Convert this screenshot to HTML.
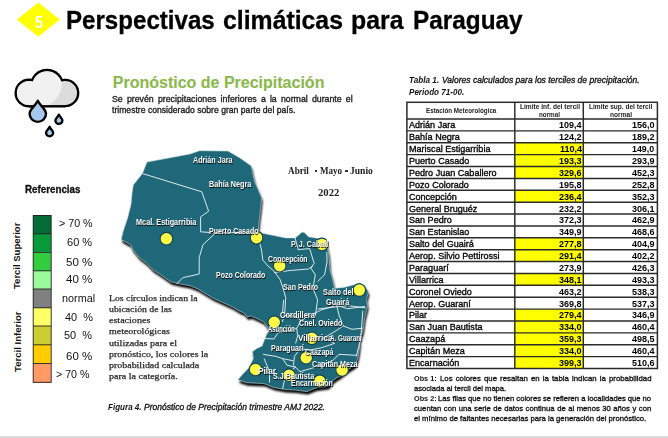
<!DOCTYPE html><html><head><meta charset="utf-8"><style>
html,body{margin:0;padding:0;background:#fff;width:668px;height:438px;overflow:hidden;position:relative;}
.t{position:absolute;white-space:pre;transform-origin:0 50%;}
.b{position:absolute;}
</style></head><body>
<svg class="b" style="left:0;top:0" width="668" height="438" viewBox="0 0 668 438"><polygon points="16.8,19.5 38.3,2.5 59.8,19.5 38.3,36.8" fill="#FFFF00"/></svg>
<div class="t" style="left:34.60px;top:12.80px;font-size:16.4px;line-height:18px;font-family:'Liberation Sans', sans-serif;font-weight:bold;font-style:normal;color:#fff;transform:scaleX(0.8664);">5</div>
<div class="t" style="left:65.80px;top:5.80px;font-size:25.4px;line-height:28px;font-family:'Liberation Sans', sans-serif;font-weight:bold;font-style:normal;color:#000;transform:scaleX(0.9493);-webkit-text-stroke:0.3px #000;">Perspectivas</div>
<div class="t" style="left:222.90px;top:5.80px;font-size:25.4px;line-height:28px;font-family:'Liberation Sans', sans-serif;font-weight:bold;font-style:normal;color:#000;transform:scaleX(0.9769);-webkit-text-stroke:0.3px #000;">climáticas</div>
<div class="t" style="left:350.90px;top:5.80px;font-size:25.4px;line-height:28px;font-family:'Liberation Sans', sans-serif;font-weight:bold;font-style:normal;color:#000;transform:scaleX(0.9791);-webkit-text-stroke:0.3px #000;">para</div>
<div class="t" style="left:412.60px;top:5.80px;font-size:25.4px;line-height:28px;font-family:'Liberation Sans', sans-serif;font-weight:bold;font-style:normal;color:#000;transform:scaleX(0.9593);-webkit-text-stroke:0.3px #000;">Paraguay</div>
<svg class="b" style="left:0;top:0" width="110" height="140" viewBox="0 0 110 140">
<defs><clipPath id="cc"><circle cx="29" cy="93" r="12.1"/><circle cx="47" cy="86" r="14.8"/><circle cx="65.1" cy="93" r="11.9"/><rect x="29" y="86" width="36.1" height="19.1"/></clipPath></defs>
<g fill="#000"><circle cx="29" cy="93" r="14.5"/><circle cx="47" cy="86" r="17.2"/><circle cx="65.1" cy="93" r="14.3"/><rect x="29" y="86" width="36.1" height="21.5"/></g>
<g fill="#DCDCDC"><circle cx="29" cy="93" r="12.1"/><circle cx="47" cy="86" r="14.8"/><circle cx="65.1" cy="93" r="11.9"/><rect x="29" y="86" width="36.1" height="19.1"/></g>
<g clip-path="url(#cc)" fill="#F1F1F1"><circle cx="36.3" cy="82.7" r="25.7"/></g>
<path d="M37.8,100.8 C40.669999999999995,106.605 46.0,109.19 46.0,113.7 A8.2,8.2 0 1 1 29.599999999999998,113.7 C29.599999999999998,109.19 34.93,106.605 37.8,100.8 Z" fill="#A6C8EE" stroke="#000" stroke-width="2.4" stroke-linejoin="round"/><path d="M58.9,114.6 C60.125,117.21 62.4,118.47500000000001 62.4,120.4 A3.5,3.5 0 1 1 55.4,120.4 C55.4,118.47500000000001 57.675,117.21 58.9,114.6 Z" fill="#A6C8EE" stroke="#000" stroke-width="2.3" stroke-linejoin="round"/><path d="M49.6,126.8 C50.86,129.45499999999998 53.2,130.72 53.2,132.7 A3.6,3.6 0 1 1 46.0,132.7 C46.0,130.72 48.34,129.45499999999998 49.6,126.8 Z" fill="#A6C8EE" stroke="#000" stroke-width="2.3" stroke-linejoin="round"/></svg>
<div class="t" style="left:112.80px;top:74.00px;font-size:16px;line-height:17px;font-family:'Liberation Sans', sans-serif;font-weight:bold;font-style:normal;color:#8BB84B;transform:scaleX(1.0000);-webkit-text-stroke:0.1px #8BB84B;">Pronóstico de Precipitación</div>
<div class="t" style="left:112.20px;top:94.00px;font-size:8.9px;line-height:10px;font-family:'Liberation Sans', sans-serif;font-weight:normal;font-style:normal;color:#1a1a1a;word-spacing:1.711px;transform:scaleX(0.9900);-webkit-text-stroke:0.32px currentColor;">Se prevén precipitaciones inferiores a la normal durante el</div>
<div class="t" style="left:112.20px;top:105.00px;font-size:8.9px;line-height:10px;font-family:'Liberation Sans', sans-serif;font-weight:normal;font-style:normal;color:#1a1a1a;transform:scaleX(0.9706);-webkit-text-stroke:0.32px currentColor;">trimestre considerado sobre gran parte del país.</div>
<div class="t" style="left:24.80px;top:184.20px;font-size:10.1px;line-height:11px;font-family:'Liberation Sans', sans-serif;font-weight:bold;font-style:normal;color:#111;transform:scaleX(0.9691);-webkit-text-stroke:0.3px #111;">Referencias</div>
<div class="b" style="left:33.00px;top:215.30px;width:18.40px;height:18.50px;background:#066B36;"></div>
<div class="b" style="left:33.00px;top:233.80px;width:18.40px;height:18.70px;background:#079A3A;"></div>
<div class="b" style="left:33.00px;top:252.50px;width:18.40px;height:18.30px;background:#33CC3F;"></div>
<div class="b" style="left:33.00px;top:270.80px;width:18.40px;height:18.20px;background:#9BFA9B;"></div>
<div class="b" style="left:33.00px;top:289.00px;width:18.40px;height:18.80px;background:#808080;"></div>
<div class="b" style="left:33.00px;top:307.80px;width:18.40px;height:18.20px;background:#FFFF66;"></div>
<div class="b" style="left:33.00px;top:326.00px;width:18.40px;height:18.80px;background:#CCCC33;"></div>
<div class="b" style="left:33.00px;top:344.80px;width:18.40px;height:18.70px;background:#FFCC00;"></div>
<div class="b" style="left:33.00px;top:363.50px;width:18.40px;height:19.00px;background:#FF9966;"></div>
<svg class="b" style="left:0;top:0" width="60" height="400" viewBox="0 0 60 400"><g stroke="#222" stroke-width="0.9" fill="none"><rect x="33.2" y="215.5" width="18" height="166.8"/><line x1="33" x2="51.4" y1="233.8" y2="233.8"/><line x1="33" x2="51.4" y1="252.5" y2="252.5"/><line x1="33" x2="51.4" y1="270.8" y2="270.8"/><line x1="33" x2="51.4" y1="289" y2="289"/><line x1="33" x2="51.4" y1="307.8" y2="307.8"/><line x1="33" x2="51.4" y1="326" y2="326"/><line x1="33" x2="51.4" y1="344.8" y2="344.8"/><line x1="33" x2="51.4" y1="363.5" y2="363.5"/></g></svg>
<div class="t" style="left:58.90px;top:218.40px;font-size:10px;line-height:11px;font-family:'Liberation Sans', sans-serif;font-weight:normal;font-style:normal;color:#111;transform:scaleX(1.0697);">&gt; 70 %</div>
<div class="t" style="left:67.40px;top:237.30px;font-size:10px;line-height:11px;font-family:'Liberation Sans', sans-serif;font-weight:normal;font-style:normal;color:#111;transform:scaleX(1.1014);">60 %</div>
<div class="t" style="left:66.20px;top:256.50px;font-size:10px;line-height:11px;font-family:'Liberation Sans', sans-serif;font-weight:normal;font-style:normal;color:#111;transform:scaleX(1.1540);">50 %</div>
<div class="t" style="left:66.20px;top:274.30px;font-size:10px;line-height:11px;font-family:'Liberation Sans', sans-serif;font-weight:normal;font-style:normal;color:#111;transform:scaleX(1.1540);">40 %</div>
<div class="t" style="left:61.60px;top:292.90px;font-size:10px;line-height:11px;font-family:'Liberation Sans', sans-serif;font-weight:normal;font-style:normal;color:#111;transform:scaleX(1.0828);">normal</div>
<div class="t" style="left:64.60px;top:311.80px;font-size:10px;line-height:11px;font-family:'Liberation Sans', sans-serif;font-weight:normal;font-style:normal;color:#111;transform:scaleX(1.0911);">40  %</div>
<div class="t" style="left:64.00px;top:329.60px;font-size:10px;line-height:11px;font-family:'Liberation Sans', sans-serif;font-weight:normal;font-style:normal;color:#111;transform:scaleX(1.0950);">50  %</div>
<div class="t" style="left:65.80px;top:350.60px;font-size:10px;line-height:11px;font-family:'Liberation Sans', sans-serif;font-weight:normal;font-style:normal;color:#111;transform:scaleX(1.1496);">60 %</div>
<div class="t" style="left:56.00px;top:368.90px;font-size:10px;line-height:11px;font-family:'Liberation Sans', sans-serif;font-weight:normal;font-style:normal;color:#111;transform:scaleX(1.0665);">&gt; 70 %</div>
<div class="t" style="left:11.9px;top:288.8px;font-size:9.6px;line-height:9.6px;font-family:'Liberation Sans';font-weight:bold;color:#111;transform-origin:0 0;transform:rotate(-90deg) scaleX(0.99);">Tercil Superior</div>
<div class="t" style="left:13.0px;top:371.9px;font-size:9.6px;line-height:9.6px;font-family:'Liberation Sans';font-weight:bold;color:#111;transform-origin:0 0;transform:rotate(-90deg) scaleX(1.0);">Tercil Inferior</div>
<svg class="b" style="left:0;top:0" width="668" height="438" viewBox="0 0 668 438"><defs><filter id="sh" x="-10%" y="-10%" width="120%" height="120%"><feGaussianBlur stdDeviation="0.9"/></filter></defs><polygon points="147,162 190,154 199.5,150.7 228,151 240,158 251.4,166 252.6,172.8 254.8,182 258.3,190 261.7,198 260.5,209.4 259.4,218.5 258.3,230 262.8,233.3 274.2,235.6 285.7,237.9 294.8,237.9 298.2,235.6 301.6,232.2 304,232.2 308.5,236.8 315.3,237.9 318.5,238.3 326.5,242.8 328.8,254.2 330,270 331.9,276.4 334.6,288.3 343.7,287.4 354.7,284.6 359.3,282.8 364.7,285.5 368.4,292 366.6,299.2 367.5,306.5 364.7,317.5 363,330.3 360,340 359.3,349 357.8,358 354.9,365.4 348.9,369.2 340,376 334,379.7 328,386.4 316,387.9 307,391.6 295,390.1 285,389.5 273.8,387.5 264,383.6 246.6,382.7 237.9,379.8 242.8,374 248.6,368.1 253.4,358.4 252.4,351.7 256.3,348.8 262.1,345.9 264,341 267,333.3 270.5,331.5 268.3,329.2 266.5,325.6 263.7,321.9 258.3,319.2 251,316 247.3,316.9 243.7,312.8 240,311.4 232.6,307 212.8,298 198,289 190,285.7 180.3,284.1 170.7,281.7 162.7,276.1 153.1,269.7 146.7,263.3 138.8,257 132.4,249 130.8,245 121.2,239.4 123,231.8 127.6,218 131,204.4 132.1,193 133.3,185 142.4,173.5" fill="#000" transform="translate(1.0,3.0)" filter="url(#sh)" opacity="1"/><polygon points="147,162 190,154 199.5,150.7 228,151 240,158 251.4,166 252.6,172.8 254.8,182 258.3,190 261.7,198 260.5,209.4 259.4,218.5 258.3,230 262.8,233.3 274.2,235.6 285.7,237.9 294.8,237.9 298.2,235.6 301.6,232.2 304,232.2 308.5,236.8 315.3,237.9 318.5,238.3 326.5,242.8 328.8,254.2 330,270 331.9,276.4 334.6,288.3 343.7,287.4 354.7,284.6 359.3,282.8 364.7,285.5 368.4,292 366.6,299.2 367.5,306.5 364.7,317.5 363,330.3 360,340 359.3,349 357.8,358 354.9,365.4 348.9,369.2 340,376 334,379.7 328,386.4 316,387.9 307,391.6 295,390.1 285,389.5 273.8,387.5 264,383.6 246.6,382.7 237.9,379.8 242.8,374 248.6,368.1 253.4,358.4 252.4,351.7 256.3,348.8 262.1,345.9 264,341 267,333.3 270.5,331.5 268.3,329.2 266.5,325.6 263.7,321.9 258.3,319.2 251,316 247.3,316.9 243.7,312.8 240,311.4 232.6,307 212.8,298 198,289 190,285.7 180.3,284.1 170.7,281.7 162.7,276.1 153.1,269.7 146.7,263.3 138.8,257 132.4,249 130.8,245 121.2,239.4 123,231.8 127.6,218 131,204.4 132.1,193 133.3,185 142.4,173.5" fill="#1F6879" stroke="#cfdde2" stroke-width="0.6"/><g fill="none" stroke="#E6EEF0" stroke-width="0.95" stroke-linejoin="round"><polyline points="142.4,173.5 201.8,191.8 208.6,211.2 200.6,216.9 200.6,231.8 215,232.9 258.3,232"/><polyline points="215,233.5 203,244.7 199.2,257.6 199.2,274 182.8,277.7 176.6,284"/><polyline points="258.5,233 259.4,241.7 261.5,250 262.8,260 268,266 274.2,271.4 280,279.4 283,288 285.7,297.6 284.5,315.9 282,322"/><polyline points="294.8,237 298.2,249.7 309.6,248.5 314.2,263.4 310.8,268 315.3,274.8 313,288.5 317.6,299.9 315.3,315.9"/><polyline points="274.2,272.5 290,270.5 308.5,269 313,265.7"/><polyline points="326.8,252 327,262 324.5,274.8 317.6,281.6"/><polyline points="317.6,309 335.9,306.8 347.3,305.6 365.6,307.9"/><polyline points="283.6,300 282.6,310.9 284.7,315.2 295.6,316.3 301,320.6 310.8,315.2 321.6,309.8 336.8,305.4 347.7,308.7 365,306.5"/><polyline points="336.8,305.4 339,315.2 343.3,326 352,329.3 362.8,328.2"/><polyline points="362.8,310.9 360.7,339 356.3,356.4"/><polyline points="301,320.6 296.7,328.2 297.7,335.8 295.6,343.4"/><polyline points="323.8,338 334.6,343.4 321.6,347.7 310.8,349.9 299.9,348.8 294.5,356.4 293.4,365.1 300,371.6 315.1,367.3 332.5,360.8 339,354.3 356.3,355.3"/><polyline points="256.5,338 273.9,339 278.2,332.6 291.2,330.4 296.7,328.2"/><polyline points="263,354.3 276,356.4 282.6,358.6 293.4,360.8"/><polyline points="264.1,358.6 269.5,371.6 269.5,382.5"/><polyline points="282.6,358.6 286.9,365.1 295.6,367.3"/><polyline points="282.6,389 285.8,373.8 295.6,367.3"/><polyline points="323.8,338 334,332 343.3,326"/></g></svg>
<svg class="b" style="left:0;top:0" width="668" height="438" viewBox="0 0 668 438"><g fill="#FFF844" stroke="#0d4254" stroke-width="1.1"><circle cx="166.4" cy="238.7" r="6.3"/><circle cx="256.6" cy="237.8" r="6.3"/><circle cx="321.9" cy="244.4" r="6.3"/><circle cx="279.7" cy="265.7" r="6.3"/><circle cx="359.3" cy="290.1" r="6.3"/><circle cx="274.3" cy="322.3" r="6.3"/><circle cx="311.9" cy="338.3" r="6.3"/><circle cx="306.2" cy="357.7" r="6.3"/><circle cx="255.6" cy="369.5" r="6.3"/><circle cx="289" cy="375.2" r="6.3"/><circle cx="319.7" cy="381.2" r="6.3"/><circle cx="342.1" cy="370" r="6.3"/></g></svg>
<div class="t" style="left:193.00px;top:154.50px;font-size:8.3px;line-height:10px;font-family:'Liberation Sans', sans-serif;font-weight:bold;font-style:normal;color:#fff;transform:scaleX(0.8639);text-shadow:0.5px 0.6px 0.8px #000;">Adrián Jara</div>
<div class="t" style="left:209.00px;top:179.00px;font-size:8.3px;line-height:10px;font-family:'Liberation Sans', sans-serif;font-weight:bold;font-style:normal;color:#fff;transform:scaleX(0.8724);text-shadow:0.5px 0.6px 0.8px #000;">Bahía Negra</div>
<div class="t" style="left:136.00px;top:217.30px;font-size:8.3px;line-height:10px;font-family:'Liberation Sans', sans-serif;font-weight:bold;font-style:normal;color:#fff;transform:scaleX(0.8795);text-shadow:0.5px 0.6px 0.8px #000;">Mcal. Estigarribia</div>
<div class="t" style="left:209.00px;top:226.30px;font-size:8.3px;line-height:10px;font-family:'Liberation Sans', sans-serif;font-weight:bold;font-style:normal;color:#fff;transform:scaleX(0.8451);text-shadow:0.5px 0.6px 0.8px #000;">Puerto Casado</div>
<div class="t" style="left:290.80px;top:238.90px;font-size:8.3px;line-height:10px;font-family:'Liberation Sans', sans-serif;font-weight:bold;font-style:normal;color:#fff;transform:scaleX(0.8608);text-shadow:0.5px 0.6px 0.8px #000;">P. J. Caball</div>
<div class="t" style="left:268.40px;top:254.10px;font-size:8.3px;line-height:10px;font-family:'Liberation Sans', sans-serif;font-weight:bold;font-style:normal;color:#fff;transform:scaleX(0.8337);text-shadow:0.5px 0.6px 0.8px #000;">Concepción</div>
<div class="t" style="left:215.80px;top:270.30px;font-size:8.3px;line-height:10px;font-family:'Liberation Sans', sans-serif;font-weight:bold;font-style:normal;color:#fff;transform:scaleX(0.8436);text-shadow:0.5px 0.6px 0.8px #000;">Pozo Colorado</div>
<div class="t" style="left:282.80px;top:282.20px;font-size:8.3px;line-height:10px;font-family:'Liberation Sans', sans-serif;font-weight:bold;font-style:normal;color:#fff;transform:scaleX(0.8526);text-shadow:0.5px 0.6px 0.8px #000;">San Pedro</div>
<div class="t" style="left:323.20px;top:286.70px;font-size:8.3px;line-height:10px;font-family:'Liberation Sans', sans-serif;font-weight:bold;font-style:normal;color:#fff;transform:scaleX(0.8816);text-shadow:0.5px 0.6px 0.8px #000;">Salto del</div>
<div class="t" style="left:325.90px;top:297.00px;font-size:8.3px;line-height:10px;font-family:'Liberation Sans', sans-serif;font-weight:bold;font-style:normal;color:#fff;transform:scaleX(0.8853);text-shadow:0.5px 0.6px 0.8px #000;">Guairá</div>
<div class="t" style="left:279.60px;top:310.00px;font-size:8.3px;line-height:10px;font-family:'Liberation Sans', sans-serif;font-weight:bold;font-style:normal;color:#fff;transform:scaleX(0.9020);text-shadow:0.5px 0.6px 0.8px #000;">Cordillera</div>
<div class="t" style="left:268.40px;top:323.50px;font-size:8.3px;line-height:10px;font-family:'Liberation Sans', sans-serif;font-weight:bold;font-style:normal;color:#fff;transform:scaleX(0.7114);text-shadow:0.5px 0.6px 0.8px #000;">Asunción</div>
<div class="t" style="left:298.60px;top:318.10px;font-size:8.3px;line-height:10px;font-family:'Liberation Sans', sans-serif;font-weight:bold;font-style:normal;color:#fff;transform:scaleX(0.8555);text-shadow:0.5px 0.6px 0.8px #000;">Cnel. Oviedo</div>
<div class="t" style="left:297.60px;top:332.50px;font-size:8.3px;line-height:10px;font-family:'Liberation Sans', sans-serif;font-weight:bold;font-style:normal;color:#fff;transform:scaleX(0.9864);text-shadow:0.5px 0.6px 0.8px #000;">Villarrica</div>
<div class="t" style="left:330.00px;top:332.50px;font-size:8.3px;line-height:10px;font-family:'Liberation Sans', sans-serif;font-weight:bold;font-style:normal;color:#fff;transform:scaleX(0.7583);text-shadow:0.5px 0.6px 0.8px #000;">A. Guaraní</div>
<div class="t" style="left:270.60px;top:342.80px;font-size:8.3px;line-height:10px;font-family:'Liberation Sans', sans-serif;font-weight:bold;font-style:normal;color:#fff;transform:scaleX(0.8517);text-shadow:0.5px 0.6px 0.8px #000;">Paraguarí</div>
<div class="t" style="left:305.40px;top:347.40px;font-size:8.3px;line-height:10px;font-family:'Liberation Sans', sans-serif;font-weight:bold;font-style:normal;color:#fff;transform:scaleX(0.8457);text-shadow:0.5px 0.6px 0.8px #000;">Caazapá</div>
<div class="t" style="left:312.20px;top:359.20px;font-size:8.3px;line-height:10px;font-family:'Liberation Sans', sans-serif;font-weight:bold;font-style:normal;color:#fff;transform:scaleX(0.8588);text-shadow:0.5px 0.6px 0.8px #000;">Capitán Meza</div>
<div class="t" style="left:258.00px;top:366.20px;font-size:8.3px;line-height:10px;font-family:'Liberation Sans', sans-serif;font-weight:bold;font-style:normal;color:#fff;transform:scaleX(1.0003);text-shadow:0.5px 0.6px 0.8px #000;">Pilar</div>
<div class="t" style="left:272.90px;top:370.70px;font-size:8.3px;line-height:10px;font-family:'Liberation Sans', sans-serif;font-weight:bold;font-style:normal;color:#fff;transform:scaleX(0.8682);text-shadow:0.5px 0.6px 0.8px #000;">S.J.Bautista</div>
<div class="t" style="left:291.20px;top:377.70px;font-size:8.3px;line-height:10px;font-family:'Liberation Sans', sans-serif;font-weight:bold;font-style:normal;color:#fff;transform:scaleX(0.8411);text-shadow:0.5px 0.6px 0.8px #000;">Encarnación</div>
<div class="t" style="left:288.20px;top:165.60px;font-size:9.5px;line-height:10px;font-family:'Liberation Serif', serif;font-weight:bold;font-style:normal;color:#222;transform:scaleX(0.9658);">Abril</div>
<div class="t" style="left:320.00px;top:165.60px;font-size:9.5px;line-height:10px;font-family:'Liberation Serif', serif;font-weight:bold;font-style:normal;color:#222;transform:scaleX(0.9518);">Mayo</div>
<div class="t" style="left:350.00px;top:165.60px;font-size:9.5px;line-height:10px;font-family:'Liberation Serif', serif;font-weight:bold;font-style:normal;color:#222;transform:scaleX(1.0042);">Junio</div>
<div class="b" style="left:314.60px;top:170.30px;width:2.40px;height:1.50px;background:#333;"></div>
<div class="b" style="left:345.30px;top:170.30px;width:2.30px;height:1.50px;background:#333;"></div>
<div class="t" style="left:317.70px;top:187.60px;font-size:9.5px;line-height:10px;font-family:'Liberation Serif', serif;font-weight:bold;font-style:normal;color:#222;transform:scaleX(1.1211);">2022</div>
<div class="t" style="left:108.90px;top:292.80px;font-size:8.9px;line-height:10px;font-family:'Liberation Serif', serif;font-weight:normal;font-style:normal;color:#262626;transform:scaleX(1.0987);-webkit-text-stroke:0.25px #262626;">Los círculos indican la</div>
<div class="t" style="left:108.90px;top:303.80px;font-size:8.9px;line-height:10px;font-family:'Liberation Serif', serif;font-weight:normal;font-style:normal;color:#262626;transform:scaleX(1.0988);-webkit-text-stroke:0.25px #262626;">ubicación de las</div>
<div class="t" style="left:108.90px;top:315.30px;font-size:8.9px;line-height:10px;font-family:'Liberation Serif', serif;font-weight:normal;font-style:normal;color:#262626;transform:scaleX(1.1321);-webkit-text-stroke:0.25px #262626;">estaciones</div>
<div class="t" style="left:108.90px;top:326.10px;font-size:8.9px;line-height:10px;font-family:'Liberation Serif', serif;font-weight:normal;font-style:normal;color:#262626;transform:scaleX(1.1219);-webkit-text-stroke:0.25px #262626;">meteorológicas</div>
<div class="t" style="left:108.90px;top:337.60px;font-size:8.9px;line-height:10px;font-family:'Liberation Serif', serif;font-weight:normal;font-style:normal;color:#262626;transform:scaleX(1.1312);-webkit-text-stroke:0.25px #262626;">utilizadas para el</div>
<div class="t" style="left:108.90px;top:348.90px;font-size:8.9px;line-height:10px;font-family:'Liberation Serif', serif;font-weight:normal;font-style:normal;color:#262626;transform:scaleX(1.1171);-webkit-text-stroke:0.25px #262626;">pronóstico, los colores la</div>
<div class="t" style="left:108.90px;top:360.40px;font-size:8.9px;line-height:10px;font-family:'Liberation Serif', serif;font-weight:normal;font-style:normal;color:#262626;transform:scaleX(1.1200);-webkit-text-stroke:0.25px #262626;">probabilidad calculada</div>
<div class="t" style="left:108.90px;top:371.10px;font-size:8.9px;line-height:10px;font-family:'Liberation Serif', serif;font-weight:normal;font-style:normal;color:#262626;transform:scaleX(1.1292);-webkit-text-stroke:0.25px #262626;">para la categoría.</div>
<div class="t" style="left:107.70px;top:402.30px;font-size:8.6px;line-height:10px;font-family:'Liberation Sans', sans-serif;font-weight:bold;font-style:italic;color:#111;transform:scaleX(0.9376);">Figura 4.</div>
<div class="t" style="left:144.00px;top:402.30px;font-size:8.6px;line-height:10px;font-family:'Liberation Sans', sans-serif;font-weight:normal;font-style:italic;color:#111;transform:scaleX(0.9884);-webkit-text-stroke:0.32px currentColor;">Pronóstico de Precipitación trimestre AMJ 2022.</div>
<div class="t" style="left:408.80px;top:75.00px;font-size:8.6px;line-height:10px;font-family:'Liberation Sans', sans-serif;font-weight:bold;font-style:italic;color:#111;transform:scaleX(0.9524);">Tabla 1.</div>
<div class="t" style="left:442.20px;top:75.00px;font-size:8.6px;line-height:10px;font-family:'Liberation Sans', sans-serif;font-weight:normal;font-style:italic;color:#111;transform:scaleX(0.9915);-webkit-text-stroke:0.32px currentColor;">Valores calculados para los terciles de precipitación.</div>
<div class="t" style="left:408.80px;top:86.50px;font-size:8.6px;line-height:10px;font-family:'Liberation Sans', sans-serif;font-weight:bold;font-style:italic;color:#111;transform:scaleX(0.9389);">Periodo 71-00.</div>
<div class="b" style="left:514.80px;top:142.76px;width:68.50px;height:11.88px;background:#FFFF00;"></div>
<div class="b" style="left:514.80px;top:154.64px;width:68.50px;height:11.88px;background:#FFFF00;"></div>
<div class="b" style="left:514.80px;top:166.52px;width:68.50px;height:11.88px;background:#FFFF00;"></div>
<div class="b" style="left:514.80px;top:190.29px;width:68.50px;height:11.88px;background:#FFFF00;"></div>
<div class="b" style="left:514.80px;top:237.81px;width:68.50px;height:11.88px;background:#FFFF00;"></div>
<div class="b" style="left:514.80px;top:249.69px;width:68.50px;height:11.88px;background:#FFFF00;"></div>
<div class="b" style="left:514.80px;top:273.45px;width:68.50px;height:11.88px;background:#FFFF00;"></div>
<div class="b" style="left:514.80px;top:309.10px;width:68.50px;height:11.88px;background:#FFFF00;"></div>
<div class="b" style="left:514.80px;top:320.98px;width:68.50px;height:11.88px;background:#FFFF00;"></div>
<div class="b" style="left:514.80px;top:332.86px;width:68.50px;height:11.88px;background:#FFFF00;"></div>
<div class="b" style="left:514.80px;top:344.74px;width:68.50px;height:11.88px;background:#FFFF00;"></div>
<div class="b" style="left:514.80px;top:356.62px;width:68.50px;height:11.88px;background:#FFFF00;"></div>
<svg class="b" style="left:0;top:0" width="668" height="438" viewBox="0 0 668 438"><g stroke="#2a2a2a" stroke-width="1.45" fill="none"><rect x="406.9" y="102.3" width="250.5" height="266.2" stroke-width="1.5"/><line x1="514.8" x2="514.8" y1="102.3" y2="368.5"/><line x1="583.3" x2="583.3" y1="102.3" y2="368.5"/><line x1="406.9" x2="657.4" y1="119" y2="119"/><line x1="406.9" x2="657.4" y1="130.88" y2="130.88"/><line x1="406.9" x2="657.4" y1="142.76" y2="142.76"/><line x1="406.9" x2="657.4" y1="154.64" y2="154.64"/><line x1="406.9" x2="657.4" y1="166.52" y2="166.52"/><line x1="406.9" x2="657.4" y1="178.40" y2="178.40"/><line x1="406.9" x2="657.4" y1="190.29" y2="190.29"/><line x1="406.9" x2="657.4" y1="202.17" y2="202.17"/><line x1="406.9" x2="657.4" y1="214.05" y2="214.05"/><line x1="406.9" x2="657.4" y1="225.93" y2="225.93"/><line x1="406.9" x2="657.4" y1="237.81" y2="237.81"/><line x1="406.9" x2="657.4" y1="249.69" y2="249.69"/><line x1="406.9" x2="657.4" y1="261.57" y2="261.57"/><line x1="406.9" x2="657.4" y1="273.45" y2="273.45"/><line x1="406.9" x2="657.4" y1="285.33" y2="285.33"/><line x1="406.9" x2="657.4" y1="297.21" y2="297.21"/><line x1="406.9" x2="657.4" y1="309.10" y2="309.10"/><line x1="406.9" x2="657.4" y1="320.98" y2="320.98"/><line x1="406.9" x2="657.4" y1="332.86" y2="332.86"/><line x1="406.9" x2="657.4" y1="344.74" y2="344.74"/><line x1="406.9" x2="657.4" y1="356.62" y2="356.62"/></g></svg>
<div class="t" style="left:409.00px;top:120.38px;font-size:8.9px;line-height:10px;font-family:'Liberation Sans', sans-serif;font-weight:normal;font-style:normal;color:#000;transform:scaleX(1.0194);-webkit-text-stroke:0.32px currentColor;">Adrián Jara</div>
<div class="t" style="left:559.30px;top:120.38px;font-size:8.6px;line-height:10px;font-family:'Liberation Sans', sans-serif;font-weight:bold;font-style:normal;color:#000;transform:scaleX(1.0500);">109,4</div>
<div class="t" style="left:631.80px;top:120.38px;font-size:8.6px;line-height:10px;font-family:'Liberation Sans', sans-serif;font-weight:bold;font-style:normal;color:#000;transform:scaleX(1.0500);">156,0</div>
<div class="t" style="left:409.00px;top:132.26px;font-size:8.9px;line-height:10px;font-family:'Liberation Sans', sans-serif;font-weight:normal;font-style:normal;color:#000;transform:scaleX(1.0194);-webkit-text-stroke:0.32px currentColor;">Bahía Negra</div>
<div class="t" style="left:559.30px;top:132.26px;font-size:8.6px;line-height:10px;font-family:'Liberation Sans', sans-serif;font-weight:bold;font-style:normal;color:#000;transform:scaleX(1.0500);">124,2</div>
<div class="t" style="left:631.80px;top:132.26px;font-size:8.6px;line-height:10px;font-family:'Liberation Sans', sans-serif;font-weight:bold;font-style:normal;color:#000;transform:scaleX(1.0500);">189,2</div>
<div class="t" style="left:409.00px;top:144.14px;font-size:8.9px;line-height:10px;font-family:'Liberation Sans', sans-serif;font-weight:normal;font-style:normal;color:#000;transform:scaleX(1.0194);-webkit-text-stroke:0.32px currentColor;">Mariscal Estigarribia</div>
<div class="t" style="left:559.80px;top:144.14px;font-size:8.6px;line-height:10px;font-family:'Liberation Sans', sans-serif;font-weight:bold;font-style:normal;color:#000;transform:scaleX(1.0500);">110,4</div>
<div class="t" style="left:632.30px;top:144.14px;font-size:8.6px;line-height:10px;font-family:'Liberation Sans', sans-serif;font-weight:bold;font-style:normal;color:#000;transform:scaleX(1.0269);">149,0</div>
<div class="t" style="left:409.00px;top:156.02px;font-size:8.9px;line-height:10px;font-family:'Liberation Sans', sans-serif;font-weight:normal;font-style:normal;color:#000;transform:scaleX(1.0194);-webkit-text-stroke:0.32px currentColor;">Puerto Casado</div>
<div class="t" style="left:559.30px;top:156.02px;font-size:8.6px;line-height:10px;font-family:'Liberation Sans', sans-serif;font-weight:bold;font-style:normal;color:#000;transform:scaleX(1.0500);">193,3</div>
<div class="t" style="left:631.80px;top:156.02px;font-size:8.6px;line-height:10px;font-family:'Liberation Sans', sans-serif;font-weight:bold;font-style:normal;color:#000;transform:scaleX(1.0500);">293,9</div>
<div class="t" style="left:409.00px;top:167.90px;font-size:8.9px;line-height:10px;font-family:'Liberation Sans', sans-serif;font-weight:normal;font-style:normal;color:#000;transform:scaleX(1.0194);-webkit-text-stroke:0.32px currentColor;">Pedro Juan Caballero</div>
<div class="t" style="left:559.30px;top:167.90px;font-size:8.6px;line-height:10px;font-family:'Liberation Sans', sans-serif;font-weight:bold;font-style:normal;color:#000;transform:scaleX(1.0500);">329,6</div>
<div class="t" style="left:631.80px;top:167.90px;font-size:8.6px;line-height:10px;font-family:'Liberation Sans', sans-serif;font-weight:bold;font-style:normal;color:#000;transform:scaleX(1.0500);">452,3</div>
<div class="t" style="left:409.00px;top:179.79px;font-size:8.9px;line-height:10px;font-family:'Liberation Sans', sans-serif;font-weight:normal;font-style:normal;color:#000;transform:scaleX(1.0194);-webkit-text-stroke:0.32px currentColor;">Pozo Colorado</div>
<div class="t" style="left:559.30px;top:179.79px;font-size:8.6px;line-height:10px;font-family:'Liberation Sans', sans-serif;font-weight:bold;font-style:normal;color:#000;transform:scaleX(1.0500);">195,8</div>
<div class="t" style="left:631.80px;top:179.79px;font-size:8.6px;line-height:10px;font-family:'Liberation Sans', sans-serif;font-weight:bold;font-style:normal;color:#000;transform:scaleX(1.0500);">252,8</div>
<div class="t" style="left:409.00px;top:191.67px;font-size:8.9px;line-height:10px;font-family:'Liberation Sans', sans-serif;font-weight:normal;font-style:normal;color:#000;transform:scaleX(1.0194);-webkit-text-stroke:0.32px currentColor;">Concepción</div>
<div class="t" style="left:559.30px;top:191.67px;font-size:8.6px;line-height:10px;font-family:'Liberation Sans', sans-serif;font-weight:bold;font-style:normal;color:#000;transform:scaleX(1.0500);">236,4</div>
<div class="t" style="left:631.80px;top:191.67px;font-size:8.6px;line-height:10px;font-family:'Liberation Sans', sans-serif;font-weight:bold;font-style:normal;color:#000;transform:scaleX(1.0500);">352,3</div>
<div class="t" style="left:409.00px;top:203.55px;font-size:8.9px;line-height:10px;font-family:'Liberation Sans', sans-serif;font-weight:normal;font-style:normal;color:#000;transform:scaleX(1.0194);-webkit-text-stroke:0.32px currentColor;">General Bruguéz</div>
<div class="t" style="left:559.30px;top:203.55px;font-size:8.6px;line-height:10px;font-family:'Liberation Sans', sans-serif;font-weight:bold;font-style:normal;color:#000;transform:scaleX(1.0500);">232,2</div>
<div class="t" style="left:631.80px;top:203.55px;font-size:8.6px;line-height:10px;font-family:'Liberation Sans', sans-serif;font-weight:bold;font-style:normal;color:#000;transform:scaleX(1.0500);">306,1</div>
<div class="t" style="left:409.00px;top:215.43px;font-size:8.9px;line-height:10px;font-family:'Liberation Sans', sans-serif;font-weight:normal;font-style:normal;color:#000;transform:scaleX(1.0194);-webkit-text-stroke:0.32px currentColor;">San Pedro</div>
<div class="t" style="left:559.30px;top:215.43px;font-size:8.6px;line-height:10px;font-family:'Liberation Sans', sans-serif;font-weight:bold;font-style:normal;color:#000;transform:scaleX(1.0500);">372,3</div>
<div class="t" style="left:631.80px;top:215.43px;font-size:8.6px;line-height:10px;font-family:'Liberation Sans', sans-serif;font-weight:bold;font-style:normal;color:#000;transform:scaleX(1.0500);">462,9</div>
<div class="t" style="left:409.00px;top:227.31px;font-size:8.9px;line-height:10px;font-family:'Liberation Sans', sans-serif;font-weight:normal;font-style:normal;color:#000;transform:scaleX(1.0194);-webkit-text-stroke:0.32px currentColor;">San Estanislao</div>
<div class="t" style="left:559.30px;top:227.31px;font-size:8.6px;line-height:10px;font-family:'Liberation Sans', sans-serif;font-weight:bold;font-style:normal;color:#000;transform:scaleX(1.0500);">349,9</div>
<div class="t" style="left:631.80px;top:227.31px;font-size:8.6px;line-height:10px;font-family:'Liberation Sans', sans-serif;font-weight:bold;font-style:normal;color:#000;transform:scaleX(1.0500);">468,6</div>
<div class="t" style="left:409.00px;top:239.19px;font-size:8.9px;line-height:10px;font-family:'Liberation Sans', sans-serif;font-weight:normal;font-style:normal;color:#000;transform:scaleX(1.0194);-webkit-text-stroke:0.32px currentColor;">Salto del Guairá</div>
<div class="t" style="left:559.30px;top:239.19px;font-size:8.6px;line-height:10px;font-family:'Liberation Sans', sans-serif;font-weight:bold;font-style:normal;color:#000;transform:scaleX(1.0500);">277,8</div>
<div class="t" style="left:631.80px;top:239.19px;font-size:8.6px;line-height:10px;font-family:'Liberation Sans', sans-serif;font-weight:bold;font-style:normal;color:#000;transform:scaleX(1.0500);">404,9</div>
<div class="t" style="left:409.00px;top:251.07px;font-size:8.9px;line-height:10px;font-family:'Liberation Sans', sans-serif;font-weight:normal;font-style:normal;color:#000;transform:scaleX(1.0194);-webkit-text-stroke:0.32px currentColor;">Aerop. Silvio Pettirossi</div>
<div class="t" style="left:559.30px;top:251.07px;font-size:8.6px;line-height:10px;font-family:'Liberation Sans', sans-serif;font-weight:bold;font-style:normal;color:#000;transform:scaleX(1.0500);">291,4</div>
<div class="t" style="left:631.80px;top:251.07px;font-size:8.6px;line-height:10px;font-family:'Liberation Sans', sans-serif;font-weight:bold;font-style:normal;color:#000;transform:scaleX(1.0500);">402,2</div>
<div class="t" style="left:409.00px;top:262.95px;font-size:8.9px;line-height:10px;font-family:'Liberation Sans', sans-serif;font-weight:normal;font-style:normal;color:#000;transform:scaleX(1.0194);-webkit-text-stroke:0.32px currentColor;">Paraguarí</div>
<div class="t" style="left:559.30px;top:262.95px;font-size:8.6px;line-height:10px;font-family:'Liberation Sans', sans-serif;font-weight:bold;font-style:normal;color:#000;transform:scaleX(1.0500);">273,9</div>
<div class="t" style="left:631.80px;top:262.95px;font-size:8.6px;line-height:10px;font-family:'Liberation Sans', sans-serif;font-weight:bold;font-style:normal;color:#000;transform:scaleX(1.0500);">426,3</div>
<div class="t" style="left:409.00px;top:274.83px;font-size:8.9px;line-height:10px;font-family:'Liberation Sans', sans-serif;font-weight:normal;font-style:normal;color:#000;transform:scaleX(1.0194);-webkit-text-stroke:0.32px currentColor;">Villarrica</div>
<div class="t" style="left:559.30px;top:274.83px;font-size:8.6px;line-height:10px;font-family:'Liberation Sans', sans-serif;font-weight:bold;font-style:normal;color:#000;transform:scaleX(1.0500);">348,1</div>
<div class="t" style="left:631.80px;top:274.83px;font-size:8.6px;line-height:10px;font-family:'Liberation Sans', sans-serif;font-weight:bold;font-style:normal;color:#000;transform:scaleX(1.0500);">493,3</div>
<div class="t" style="left:409.00px;top:286.71px;font-size:8.9px;line-height:10px;font-family:'Liberation Sans', sans-serif;font-weight:normal;font-style:normal;color:#000;transform:scaleX(1.0194);-webkit-text-stroke:0.32px currentColor;">Coronel Oviedo</div>
<div class="t" style="left:559.30px;top:286.71px;font-size:8.6px;line-height:10px;font-family:'Liberation Sans', sans-serif;font-weight:bold;font-style:normal;color:#000;transform:scaleX(1.0500);">463,2</div>
<div class="t" style="left:631.80px;top:286.71px;font-size:8.6px;line-height:10px;font-family:'Liberation Sans', sans-serif;font-weight:bold;font-style:normal;color:#000;transform:scaleX(1.0500);">538,3</div>
<div class="t" style="left:409.00px;top:298.60px;font-size:8.9px;line-height:10px;font-family:'Liberation Sans', sans-serif;font-weight:normal;font-style:normal;color:#000;transform:scaleX(1.0194);-webkit-text-stroke:0.32px currentColor;">Aerop. Guaraní</div>
<div class="t" style="left:559.30px;top:298.60px;font-size:8.6px;line-height:10px;font-family:'Liberation Sans', sans-serif;font-weight:bold;font-style:normal;color:#000;transform:scaleX(1.0500);">369,8</div>
<div class="t" style="left:631.80px;top:298.60px;font-size:8.6px;line-height:10px;font-family:'Liberation Sans', sans-serif;font-weight:bold;font-style:normal;color:#000;transform:scaleX(1.0500);">537,3</div>
<div class="t" style="left:409.00px;top:310.48px;font-size:8.9px;line-height:10px;font-family:'Liberation Sans', sans-serif;font-weight:normal;font-style:normal;color:#000;transform:scaleX(1.0194);-webkit-text-stroke:0.32px currentColor;">Pilar</div>
<div class="t" style="left:559.30px;top:310.48px;font-size:8.6px;line-height:10px;font-family:'Liberation Sans', sans-serif;font-weight:bold;font-style:normal;color:#000;transform:scaleX(1.0500);">279,4</div>
<div class="t" style="left:631.80px;top:310.48px;font-size:8.6px;line-height:10px;font-family:'Liberation Sans', sans-serif;font-weight:bold;font-style:normal;color:#000;transform:scaleX(1.0500);">346,9</div>
<div class="t" style="left:409.00px;top:322.36px;font-size:8.9px;line-height:10px;font-family:'Liberation Sans', sans-serif;font-weight:normal;font-style:normal;color:#000;transform:scaleX(1.0194);-webkit-text-stroke:0.32px currentColor;">San Juan Bautista</div>
<div class="t" style="left:559.30px;top:322.36px;font-size:8.6px;line-height:10px;font-family:'Liberation Sans', sans-serif;font-weight:bold;font-style:normal;color:#000;transform:scaleX(1.0500);">334,0</div>
<div class="t" style="left:631.80px;top:322.36px;font-size:8.6px;line-height:10px;font-family:'Liberation Sans', sans-serif;font-weight:bold;font-style:normal;color:#000;transform:scaleX(1.0500);">460,4</div>
<div class="t" style="left:409.00px;top:334.24px;font-size:8.9px;line-height:10px;font-family:'Liberation Sans', sans-serif;font-weight:normal;font-style:normal;color:#000;transform:scaleX(1.0194);-webkit-text-stroke:0.32px currentColor;">Caazapá</div>
<div class="t" style="left:559.30px;top:334.24px;font-size:8.6px;line-height:10px;font-family:'Liberation Sans', sans-serif;font-weight:bold;font-style:normal;color:#000;transform:scaleX(1.0500);">359,3</div>
<div class="t" style="left:631.80px;top:334.24px;font-size:8.6px;line-height:10px;font-family:'Liberation Sans', sans-serif;font-weight:bold;font-style:normal;color:#000;transform:scaleX(1.0500);">498,5</div>
<div class="t" style="left:409.00px;top:346.12px;font-size:8.9px;line-height:10px;font-family:'Liberation Sans', sans-serif;font-weight:normal;font-style:normal;color:#000;transform:scaleX(1.0194);-webkit-text-stroke:0.32px currentColor;">Capitán Meza</div>
<div class="t" style="left:559.30px;top:346.12px;font-size:8.6px;line-height:10px;font-family:'Liberation Sans', sans-serif;font-weight:bold;font-style:normal;color:#000;transform:scaleX(1.0500);">334,0</div>
<div class="t" style="left:631.80px;top:346.12px;font-size:8.6px;line-height:10px;font-family:'Liberation Sans', sans-serif;font-weight:bold;font-style:normal;color:#000;transform:scaleX(1.0500);">460,4</div>
<div class="t" style="left:409.00px;top:358.00px;font-size:8.9px;line-height:10px;font-family:'Liberation Sans', sans-serif;font-weight:normal;font-style:normal;color:#000;transform:scaleX(1.0194);-webkit-text-stroke:0.32px currentColor;">Encarnación</div>
<div class="t" style="left:559.30px;top:358.00px;font-size:8.6px;line-height:10px;font-family:'Liberation Sans', sans-serif;font-weight:bold;font-style:normal;color:#000;transform:scaleX(1.0500);">399,3</div>
<div class="t" style="left:631.80px;top:358.00px;font-size:8.6px;line-height:10px;font-family:'Liberation Sans', sans-serif;font-weight:bold;font-style:normal;color:#000;transform:scaleX(1.0500);">510,6</div>
<div class="t" style="left:426.00px;top:107.00px;font-size:6.5px;line-height:7px;font-family:'Liberation Sans', sans-serif;font-weight:bold;font-style:normal;color:#222;transform:scaleX(0.9643);">Estación Meteorológica</div>
<div class="t" style="left:519.50px;top:103.00px;font-size:6.5px;line-height:7px;font-family:'Liberation Sans', sans-serif;font-weight:bold;font-style:normal;color:#222;transform:scaleX(1.0129);">Límite inf. del tercil</div>
<div class="t" style="left:538.50px;top:111.20px;font-size:6.5px;line-height:7px;font-family:'Liberation Sans', sans-serif;font-weight:bold;font-style:normal;color:#222;transform:scaleX(0.9644);">normal</div>
<div class="t" style="left:588.80px;top:103.00px;font-size:6.5px;line-height:7px;font-family:'Liberation Sans', sans-serif;font-weight:bold;font-style:normal;color:#222;transform:scaleX(1.0088);">Límite sup. del tercil</div>
<div class="t" style="left:610.00px;top:111.20px;font-size:6.5px;line-height:7px;font-family:'Liberation Sans', sans-serif;font-weight:bold;font-style:normal;color:#222;transform:scaleX(1.0152);">normal</div>
<div class="t" style="left:413.80px;top:374.00px;font-size:8.0px;line-height:9px;font-family:'Liberation Sans', sans-serif;font-weight:bold;font-style:normal;color:#111;transform:scaleX(0.9078);">Obs 1:</div>
<div class="t" style="left:439.50px;top:374.00px;font-size:8.0px;line-height:9px;font-family:'Liberation Sans', sans-serif;font-weight:normal;font-style:normal;color:#111;word-spacing:0.977px;transform:scaleX(0.9749);-webkit-text-stroke:0.32px currentColor;">Los colores que resaltan en la tabla indican la probabilidad</div>
<div class="t" style="left:413.80px;top:384.30px;font-size:8.0px;line-height:9px;font-family:'Liberation Sans', sans-serif;font-weight:normal;font-style:normal;color:#111;word-spacing:-0.023px;transform:scaleX(0.9520);-webkit-text-stroke:0.32px currentColor;">asociada al tercil del mapa.</div>
<div class="t" style="left:413.80px;top:394.30px;font-size:8.0px;line-height:9px;font-family:'Liberation Sans', sans-serif;font-weight:bold;font-style:normal;color:#111;transform:scaleX(0.9078);">Obs 2:</div>
<div class="t" style="left:437.90px;top:394.30px;font-size:8.0px;line-height:9px;font-family:'Liberation Sans', sans-serif;font-weight:normal;font-style:normal;color:#111;word-spacing:-0.023px;transform:scaleX(0.9537);-webkit-text-stroke:0.32px currentColor;">Las filas que no tienen colores se refieren a localidades que no</div>
<div class="t" style="left:413.80px;top:404.40px;font-size:8.0px;line-height:9px;font-family:'Liberation Sans', sans-serif;font-weight:normal;font-style:normal;color:#111;word-spacing:0.377px;transform:scaleX(0.9609);-webkit-text-stroke:0.32px currentColor;">cuentan con una serie de datos continua de al menos 30 años y con</div>
<div class="t" style="left:413.80px;top:414.40px;font-size:8.0px;line-height:9px;font-family:'Liberation Sans', sans-serif;font-weight:normal;font-style:normal;color:#111;word-spacing:-0.023px;transform:scaleX(0.9606);-webkit-text-stroke:0.32px currentColor;">el mínimo de faltantes necesarias para la generación del pronóstico.</div>
<div class="b" style="left:0.00px;top:436.00px;width:668.00px;height:2.00px;background:#DCDCDC;"></div>
</body></html>
